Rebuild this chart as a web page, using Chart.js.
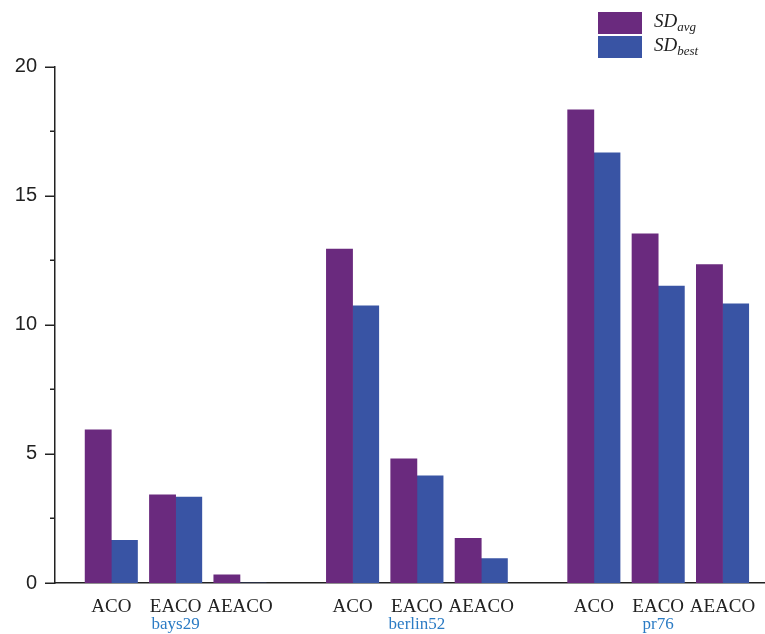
<!DOCTYPE html>
<html>
<head>
<meta charset="utf-8">
<script src="https://cdn.jsdelivr.net/npm/chart.js@4.4.1/dist/chart.umd.min.js"></script>
<style>
  html, body { margin: 0; padding: 0; background: #fff; }
  #wrap { width: 765px; height: 634px; }
</style>
</head>
<body>
<div id="wrap"><canvas id="myChart"></canvas></div>
<script>
// data
const instances = ['bays29', 'berlin52', 'pr76'];
const methods = ['ACO', 'EACO', 'AEACO'];
const sdAvg  = [5.93, 3.41, 0.32,  12.93, 4.81, 1.73,  18.32, 13.52, 12.33];
const sdBest = [1.65, 3.33, 0,     10.73, 4.15, 0.95,  16.66, 11.5, 10.81];
const yTicks = [0, 5, 10, 15, 20];
const seriesNames = [['SD', 'avg'], ['SD', 'best']];
const colors = ['#6a2a7e', '#3954a4'];

// slot position of each bar pair: 4 units apart inside a group, 7 between groups
function slot(i) {
    const g = Math.floor(i / methods.length), m = i % methods.length;
    return g * 15 + m * 4;
}
const xSlots = sdAvg.map((v, i) => slot(i));

const axisColor = '#222';

const drawExtras = {
    id: 'drawExtras',
    afterDraw(chart) {
        const ctx = chart.ctx;
        const xs = chart.scales.x, ys = chart.scales.y;
        ctx.save();
        // y tick marks, major and minor
        ctx.strokeStyle = axisColor;
        ctx.lineWidth = 1.5;
        for (let v = 0; v <= 20; v += 2.5) {
            const y = Math.round(ys.getPixelForValue(v)) + 0.25;
            const len = (v % 5 === 0) ? 10 : 5;
            ctx.beginPath();
            ctx.moveTo(xs.left - len, y);
            ctx.lineTo(xs.left, y);
            ctx.stroke();
        }
        // instance names under each group
        ctx.fillStyle = '#2b7bc4';
        ctx.font = '17px "Liberation Serif", "Times New Roman", serif';
        ctx.textAlign = 'center';
        ctx.textBaseline = 'alphabetic';
        instances.forEach((name, g) => {
            const x = xs.getPixelForValue(slot(g * 3 + 1));
            ctx.fillText(name, x, 629);
        });
        // legend
        ctx.textAlign = 'left';
        seriesNames.forEach((nm, k) => {
            const top = 12 + k * 24;
            ctx.fillStyle = colors[k];
            ctx.fillRect(598, top, 44, 22);
            ctx.fillStyle = axisColor;
            ctx.font = 'italic 19px "Liberation Serif", "Times New Roman", serif';
            ctx.fillText(nm[0], 654, top + 15);
            const w = ctx.measureText(nm[0]).width;
            ctx.font = 'italic 13px "Liberation Serif", "Times New Roman", serif';
            ctx.fillText(nm[1], 654 + w, top + 18.5);
        });
        ctx.restore();
    }
};

const config = {
    type: 'bar',
    data: {
        datasets: [
            {
                label: 'SDavg',
                data: sdAvg.map((v, i) => ({ x: xSlots[i], y: v })),
                backgroundColor: colors[0]
            },
            {
                label: 'SDbest',
                data: sdBest.map((v, i) => ({ x: xSlots[i], y: v })),
                backgroundColor: colors[1]
            }
        ]
    },
    options: {
        responsive: true,
        maintainAspectRatio: false,
        animation: false,
        layout: { padding: { top: 66.5, left: 0, right: 0, bottom: 0 } },
        datasets: { bar: { barThickness: 26.2 } },
        plugins: {
            legend: { display: false },
            tooltip: { enabled: false }
        },
        scales: {
            x: {
                type: 'linear',
                offset: false,
                min: -3.5,
                max: 40.64,
                grid: { display: false, drawTicks: false, offset: false },
                border: { display: true, color: axisColor, width: 1.5 },
                afterBuildTicks: function(scale) {
                    scale.ticks = xSlots.map(v => ({ value: v }));
                },
                afterFit: function(scale) {
                    scale.height = 51;
                    scale.paddingLeft = 0;
                    scale.paddingRight = 0;
                },
                ticks: {
                    autoSkip: false,
                    maxRotation: 0,
                    padding: 13,
                    color: axisColor,
                    font: { family: '"Liberation Serif", "Times New Roman", serif', size: 19 },
                    callback: function(value, index) {
                        return methods[index % methods.length];
                    }
                }
            },
            y: {
                min: 0,
                max: 20,
                grid: { display: false, drawTicks: false },
                border: { display: true, color: axisColor, width: 1.5 },
                afterBuildTicks: function(scale) {
                    scale.ticks = yTicks.map(v => ({ value: v }));
                },
                afterFit: function(scale) {
                    scale.width = 55;
                    scale.paddingTop = 0;
                    scale.paddingBottom = 0;
                },
                ticks: {
                    padding: 18,
                    color: axisColor,
                    font: { family: '"Liberation Sans", Arial, sans-serif', size: 20 }
                }
            }
        }
    },
    plugins: [drawExtras]
};

window.onload = function() {
    const ctx = document.getElementById('myChart').getContext('2d');
    new Chart(ctx, config);
};
</script>
</body>
</html>
